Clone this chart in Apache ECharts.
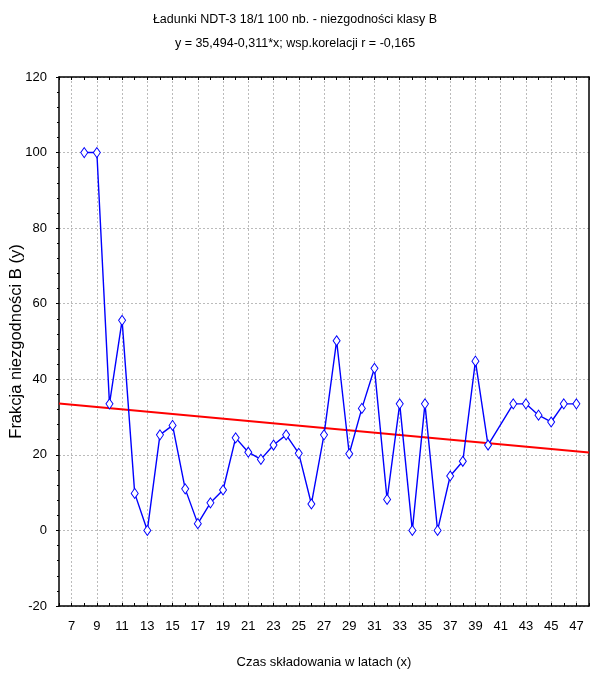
<!DOCTYPE html>
<html><head><meta charset="utf-8">
<script src="https://cdn.jsdelivr.net/npm/echarts@6/dist/echarts.min.js"></script>
<style>html,body{margin:0;padding:0;background:#fff}#c{width:590px;height:675px}</style>
</head><body><div id="c"></div>
<script>
// Categories: storage time in years, 6..48
const xCategories = [];
for (let v = 6; v <= 48; v++) xCategories.push(String(v));
// Observed points (x = years, y = fraction of class B nonconformities)
const xValues = [8, 9, 10, 11, 12, 13, 14, 15, 16, 17, 18, 19, 20, 21, 22, 23, 24, 25, 26, 27, 28, 29, 30, 31, 32, 33, 34, 35, 36, 37, 38, 39, 40, 42, 43, 44, 45, 46, 47];
const yValues = [100, 100, 33.5, 55.6, 9.8, 0, 25.3, 27.8, 11.0, 1.8, 7.3, 10.7, 24.5, 20.7, 18.8, 22.6, 25.3, 20.4, 7.0, 25.3, 50.2, 20.3, 32.3, 42.9, 8.2, 33.5, 0, 33.5, 0, 14.4, 18.3, 44.8, 22.6, 33.5, 33.5, 30.5, 28.7, 33.5, 33.5];
// Regression line endpoints
const fitX = [6, 48];
const fitY = [33.6, 20.6];
const yTicks = { min: -20, max: 120, interval: 20 };

const titleLines = ['Ładunki NDT-3 18/1 100 nb. - niezgodności klasy B', 'y = 35,494-0,311*x; wsp.korelacji r = -0,165'];
const xName = 'Czas składowania w latach (x)';
const yName = 'Frakcja niezgodności B (y)';

const FONT = '"Liberation Sans", Arial, sans-serif';
const idx = v => v - 6;
const pts = xValues.map((x, i) => [idx(x), yValues[i]]);
const fit = fitX.map((x, i) => [idx(x), fitY[i]]);

const chart = echarts.init(document.getElementById('c'), null, { renderer: 'canvas' });
chart.setOption({
  animation: false,
  backgroundColor: '#fff',
  title: {
    text: titleLines.join('\n'),
    left: 'center',
    top: 3,
    textStyle: { fontFamily: FONT, fontSize: 12.5, fontWeight: 'normal', color: '#000', lineHeight: 24 }
  },
  grid: { left: 59, right: 1, top: 77, bottom: 69, containLabel: false, outerBoundsMode: 'none' },
  xAxis: [{
    type: 'category', data: xCategories, boundaryGap: false, position: 'bottom',
    axisLine: { onZero: false, lineStyle: { color: '#000', width: 1.5 } },
    axisTick: { show: true, inside: true, length: 3, interval: 0, lineStyle: { color: '#000' } },
    axisLabel: { interval: (i) => i % 2 === 1, fontFamily: FONT, fontSize: 13, color: '#000', margin: 14 },
    splitLine: { show: true, interval: (i) => i % 2 === 1, lineStyle: { color: '#bbb', type: [2, 2], width: 1 } },
    name: xName, nameLocation: 'middle', nameGap: 50, nameMoveOverlap: false,
    nameTextStyle: { fontFamily: FONT, fontSize: 13, color: '#000' }
  }, {
    type: 'category', data: xCategories, boundaryGap: false, position: 'top',
    axisLine: { onZero: false, lineStyle: { color: '#000', width: 1.5 } },
    axisTick: { show: true, inside: true, length: 3, interval: 0, lineStyle: { color: '#000' } },
    axisLabel: { show: false }, splitLine: { show: false }
  }],
  yAxis: [{
    type: 'value', min: yTicks.min, max: yTicks.max, interval: yTicks.interval,
    axisLine: { show: true, onZero: false, lineStyle: { color: '#000', width: 1.5 } },
    axisTick: { show: true, length: 3, lineStyle: { color: '#000' } },
    minorTick: { show: true, splitNumber: 5, length: 2, lineStyle: { color: '#000' } },
    axisLabel: { fontFamily: FONT, fontSize: 13, color: '#000', margin: 12 },
    splitLine: { show: true, lineStyle: { color: '#bbb', type: [2, 2], width: 1 } },
    name: yName, nameLocation: 'middle', nameGap: 34, nameRotate: 90, nameMoveOverlap: false,
    nameTextStyle: { fontFamily: FONT, fontSize: 16.5, color: '#000' }
  }, {
    type: 'value', min: yTicks.min, max: yTicks.max, interval: yTicks.interval, position: 'right',
    axisLine: { show: true, onZero: false, lineStyle: { color: '#000', width: 1.5 } },
    axisTick: { show: false }, axisLabel: { show: false }, splitLine: { show: false }
  }],
  series: [{
    type: 'line', data: fit, xAxisIndex: 0, yAxisIndex: 0,
    symbol: 'none', lineStyle: { color: '#ff0000', width: 2 }, z: 2
  }, {
    type: 'line', data: pts, xAxisIndex: 0, yAxisIndex: 0,
    symbol: 'diamond', symbolSize: [7, 10], showAllSymbol: true,
    itemStyle: { color: '#fff', borderColor: '#0000ff', borderWidth: 1 },
    lineStyle: { color: '#0000ff', width: 1.4 }, z: 3
  }]
});
</script></body></html>
